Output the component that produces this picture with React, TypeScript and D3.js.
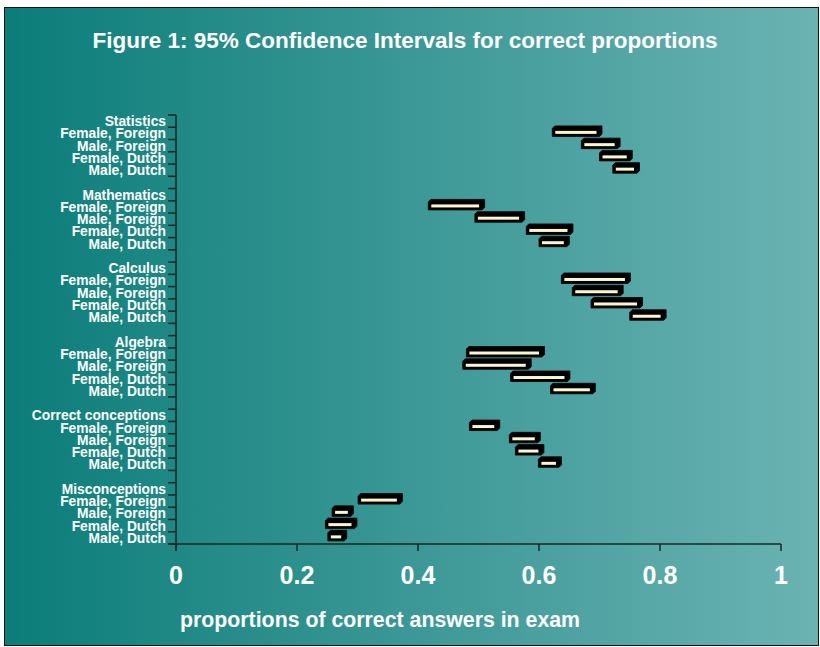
import React, { useEffect, useRef } from 'react';
import * as d3 from 'd3';

// chart data
const groups = ['Statistics', 'Mathematics', 'Calculus', 'Algebra', 'Correct conceptions', 'Misconceptions'];
const subgroups = ['Female, Foreign', 'Male, Foreign', 'Female, Dutch', 'Male, Dutch'];

// lower / upper limits of the 95% CI, one row per group, in subgroup order
const lowerBounds = [
    [0.622, 0.670, 0.700, 0.722],
    [0.417, 0.494, 0.579, 0.600],
    [0.637, 0.655, 0.686, 0.750],
    [0.480, 0.474, 0.553, 0.619],
    [0.485, 0.551, 0.561, 0.599],
    [0.301, 0.258, 0.247, 0.251],
];
const upperBounds = [
    [0.700, 0.730, 0.750, 0.762],
    [0.506, 0.572, 0.652, 0.646],
    [0.747, 0.735, 0.767, 0.806],
    [0.605, 0.583, 0.647, 0.689],
    [0.531, 0.598, 0.604, 0.633],
    [0.370, 0.289, 0.295, 0.278],
];
const xTicks = [0, 0.2, 0.4, 0.6, 0.8, 1];

const title = 'Figure 1: 95% Confidence Intervals for correct proportions';
const xLabel = 'proportions of correct answers in exam';

const W = 820;
const H = 647;
const FONT = '"Liberation Sans", Arial, sans-serif';

const App = () => {
    const svgRef = useRef(null);

    useEffect(() => {
        document.body.style.margin = '0';
        const svg = d3.select(svgRef.current);
        svg.selectAll('*').remove();

        //background panel with gradient
        const defs = svg.append('defs');
        const grad = defs.append('linearGradient')
            .attr('id', 'bg')
            .attr('x1', '0%').attr('x2', '100%')
            .attr('y1', '0%').attr('y2', '0%');
        grad.append('stop').attr('offset', '0%').attr('stop-color', '#0b7d79');
        grad.append('stop').attr('offset', '100%').attr('stop-color', '#6bb3b3');

        svg.append('rect')
            .attr('x', 4.5).attr('y', 7.5)
            .attr('width', W - 6).attr('height', H - 9)
            .attr('fill', 'url(#bg)')
            .attr('stroke', '#111')
            .attr('stroke-width', 1);

        //slots: header, 4 subgroups, blank (no blank after last group)
        const slots = [];
        groups.forEach((g, gi) => {
            slots.push({ key: `h${gi}`, label: g });
            subgroups.forEach((s, si) => slots.push({ key: `${gi}-${si}`, label: s, gi, si }));
            if (gi < groups.length - 1) slots.push({ key: `b${gi}`, label: '' });
        });

        const top = 115;
        const bottom = 544;
        const left = 176;
        const right = 781;

        const y = d3.scaleBand()
            .domain(slots.map(d => d.key))
            .range([top, bottom])
            .padding(0);

        const x = d3.scaleLinear()
            .domain([0, 1])
            .range([left, right]);

        //y axis line and ticks at slot boundaries
        const axisColor = '#1b2626';
        svg.append('line')
            .attr('x1', left).attr('x2', left)
            .attr('y1', top).attr('y2', bottom + 7)
            .attr('stroke', axisColor).attr('stroke-width', 1.5);

        const edges = slots.map(d => y(d.key)).concat([bottom]);
        svg.selectAll('.ytick')
            .data(edges)
            .enter().append('line')
            .attr('class', 'ytick')
            .attr('x1', left - 8).attr('x2', left)
            .attr('y1', d => d).attr('y2', d => d)
            .attr('stroke', axisColor).attr('stroke-width', 1.5);

        //x axis
        svg.append('line')
            .attr('x1', left - 8).attr('x2', right)
            .attr('y1', bottom).attr('y2', bottom)
            .attr('stroke', axisColor).attr('stroke-width', 1.5);

        svg.selectAll('.xtick')
            .data(xTicks)
            .enter().append('line')
            .attr('class', 'xtick')
            .attr('x1', d => x(d)).attr('x2', d => x(d))
            .attr('y1', bottom).attr('y2', bottom + 7)
            .attr('stroke', axisColor).attr('stroke-width', 1.5);

        svg.selectAll('.xlabel')
            .data(xTicks)
            .enter().append('text')
            .attr('class', 'xlabel')
            .attr('x', d => x(d))
            .attr('y', 584)
            .attr('text-anchor', 'middle')
            .attr('font-family', FONT)
            .attr('font-weight', 'bold')
            .attr('font-size', 25)
            .attr('fill', '#fff')
            .text(d => String(+d.toFixed(1)));

        //y labels
        svg.selectAll('.ylabel')
            .data(slots.filter(d => d.label))
            .enter().append('text')
            .attr('class', 'ylabel')
            .attr('x', 166)
            .attr('y', d => y(d.key) + y.bandwidth() / 2 + 5)
            .attr('text-anchor', 'end')
            .attr('font-family', FONT)
            .attr('font-weight', 'bold')
            .attr('font-size', 13.8)
            .attr('fill', '#fff')
            .text(d => d.label);

        //interval bars (3D look: black box with depth, cream core)
        const bars = slots.filter(d => d.gi !== undefined).map(d => ({
            key: d.key,
            lo: lowerBounds[d.gi][d.si],
            hi: upperBounds[d.gi][d.si],
        }));
        const depth = 2.5;
        const barH = 8;

        const bar = svg.selectAll('.bar')
            .data(bars)
            .enter().append('g')
            .attr('class', 'bar');

        bar.append('path')
            .attr('d', d => {
                const x0 = x(d.lo);
                const x1 = x(d.hi);
                const y0 = y(d.key) + y.bandwidth() / 2 - 5;
                const y1 = y0 + barH;
                return `M${x0},${y0} L${x0 + depth},${y0 - depth} L${x1 + depth},${y0 - depth} L${x1 + depth},${y1 - depth} L${x1},${y1} L${x0},${y1} Z`;
            })
            .attr('fill', '#000')
            .attr('stroke', '#000')
            .attr('stroke-width', 0.8);

        bar.append('rect')
            .attr('x', d => x(d.lo) + 3)
            .attr('y', d => y(d.key) + y.bandwidth() / 2 - 2.5)
            .attr('width', d => Math.max(0, x(d.hi) - x(d.lo) - 6))
            .attr('height', 3)
            .attr('fill', '#fbf6cf');

        //title
        svg.append('text')
            .attr('x', 405)
            .attr('y', 48)
            .attr('text-anchor', 'middle')
            .attr('font-family', FONT)
            .attr('font-weight', 'bold')
            .attr('font-size', 22.5)
            .attr('fill', '#fff')
            .text(title);

        //x axis title
        svg.append('text')
            .attr('x', 180)
            .attr('y', 627)
            .attr('font-family', FONT)
            .attr('font-weight', 'bold')
            .attr('font-size', 21.3)
            .attr('fill', '#fff')
            .text(xLabel);
    }, []);

    return (
        <svg ref={svgRef} width={W} height={H} style={{ display: 'block', background: '#fff' }}></svg>
    );
};

export default App;
